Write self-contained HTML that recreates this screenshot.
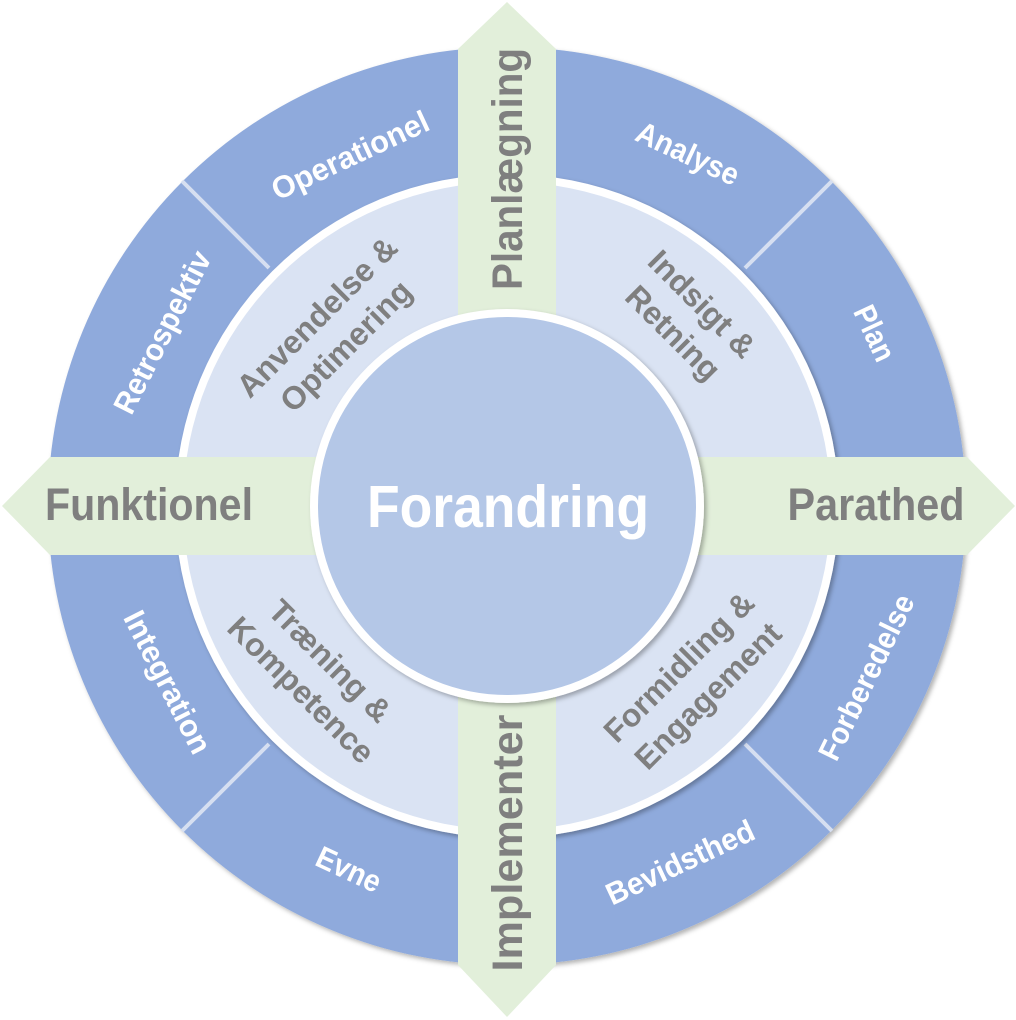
<!DOCTYPE html>
<html>
<head>
<meta charset="utf-8">
<style>
  html, body { margin: 0; padding: 0; background: #ffffff; }
  svg { display: block; }
  text { font-family: "Liberation Sans", Arial, sans-serif; font-weight: bold; }
</style>
</head>
<body>
<svg width="1016" height="1020" viewBox="0 0 1016 1020" xmlns="http://www.w3.org/2000/svg">
  <defs>
    <filter id="sh" x="-10%" y="-10%" width="120%" height="120%">
      <feDropShadow dx="2.5" dy="2.5" stdDeviation="2.5" flood-color="#000" flood-opacity="0.3"/>
    </filter>
  </defs>

  <!-- Outer ring -->
  <circle cx="507" cy="506" r="459" fill="#8FAADC" filter="url(#sh)"/>

  <!-- Diagonal separators -->
  <g stroke="#D6DFF1" stroke-width="4">
    <line x1="269" y1="268" x2="182" y2="181"/>
    <line x1="745" y1="268" x2="832" y2="181"/>
    <line x1="269" y1="744" x2="182" y2="831"/>
    <line x1="745" y1="744" x2="832" y2="831"/>
  </g>

  <!-- Middle ring -->
  <circle cx="507" cy="506" r="332" fill="#FFFFFF" filter="url(#sh)"/>
  <circle cx="507" cy="506" r="324" fill="#DAE3F3"/>

  <!-- Cross bands with arrowheads -->
  <polygon points="507,2 556,49 556,965 507,1017 458,965 458,49" fill="#E2EFDA"/>
  <polygon points="2,506 50,457 967,457 1015,506 967,555 50,555" fill="#E2EFDA"/>

  <!-- Center circle -->
  <circle cx="507" cy="506" r="197" fill="#FFFFFF" filter="url(#sh)"/>
  <circle cx="507" cy="506" r="189" fill="#B4C7E7"/>

  <!-- Center label -->
  <text x="508" y="527" font-size="59" fill="#FFFFFF" text-anchor="middle" textLength="282" lengthAdjust="spacingAndGlyphs">Forandring</text>

  <!-- Band labels -->
  <text x="149" y="520" font-size="45" fill="#7F7F7F" text-anchor="middle" textLength="208" lengthAdjust="spacingAndGlyphs">Funktionel</text>
  <text x="876" y="520" font-size="45" fill="#7F7F7F" text-anchor="middle" textLength="177" lengthAdjust="spacingAndGlyphs">Parathed</text>
  <g transform="translate(522,169) rotate(-90)">
    <text x="0" y="0" font-size="43" fill="#7F7F7F" text-anchor="middle" textLength="242" lengthAdjust="spacingAndGlyphs">Planlægning</text>
  </g>
  <g transform="translate(522,843) rotate(-90)">
    <text x="0" y="0" font-size="43" fill="#7F7F7F" text-anchor="middle" textLength="257" lengthAdjust="spacingAndGlyphs">Implementer</text>
  </g>

  <!-- Outer ring labels -->
  <g fill="#FFFFFF" font-size="31" text-anchor="middle">
    <g transform="translate(350,155) rotate(-25)"><text x="0" y="11" textLength="170" lengthAdjust="spacingAndGlyphs">Operationel</text></g>
    <g transform="translate(688,153) rotate(25)"><text x="0" y="11" textLength="110" lengthAdjust="spacingAndGlyphs">Analyse</text></g>
    <g transform="translate(875,333) rotate(65)"><text x="0" y="11" textLength="58" lengthAdjust="spacingAndGlyphs">Plan</text></g>
    <g transform="translate(162,332) rotate(-63)"><text x="0" y="11" textLength="178" lengthAdjust="spacingAndGlyphs">Retrospektiv</text></g>
    <g transform="translate(866,677) rotate(-64)"><text x="0" y="11" textLength="180" lengthAdjust="spacingAndGlyphs">Forberedelse</text></g>
    <g transform="translate(680,862) rotate(-25)"><text x="0" y="11" textLength="160" lengthAdjust="spacingAndGlyphs">Bevidsthed</text></g>
    <g transform="translate(349,869) rotate(25)"><text x="0" y="11" textLength="68" lengthAdjust="spacingAndGlyphs">Evne</text></g>
    <g transform="translate(168,682) rotate(63)"><text x="0" y="11" textLength="156" lengthAdjust="spacingAndGlyphs">Integration</text></g>
  </g>

  <!-- Inner ring labels -->
  <g fill="#7F7F7F" font-size="32" text-anchor="middle">
    <g transform="translate(331,331) rotate(-45)">
      <text x="0" y="-9">Anvendelse &amp;</text>
      <text x="0" y="32">Optimering</text>
    </g>
    <g transform="translate(688,318) rotate(45)">
      <text x="0" y="-9">Indsigt &amp;</text>
      <text x="0" y="32">Retning</text>
    </g>
    <g transform="translate(316,675) rotate(45)">
      <text x="0" y="-9">Træning &amp;</text>
      <text x="0" y="32">Kompetence</text>
    </g>
    <g transform="translate(693,681) rotate(-45)">
      <text x="0" y="-9">Formidling &amp;</text>
      <text x="0" y="32">Engagement</text>
    </g>
  </g>
</svg>
</body>
</html>
